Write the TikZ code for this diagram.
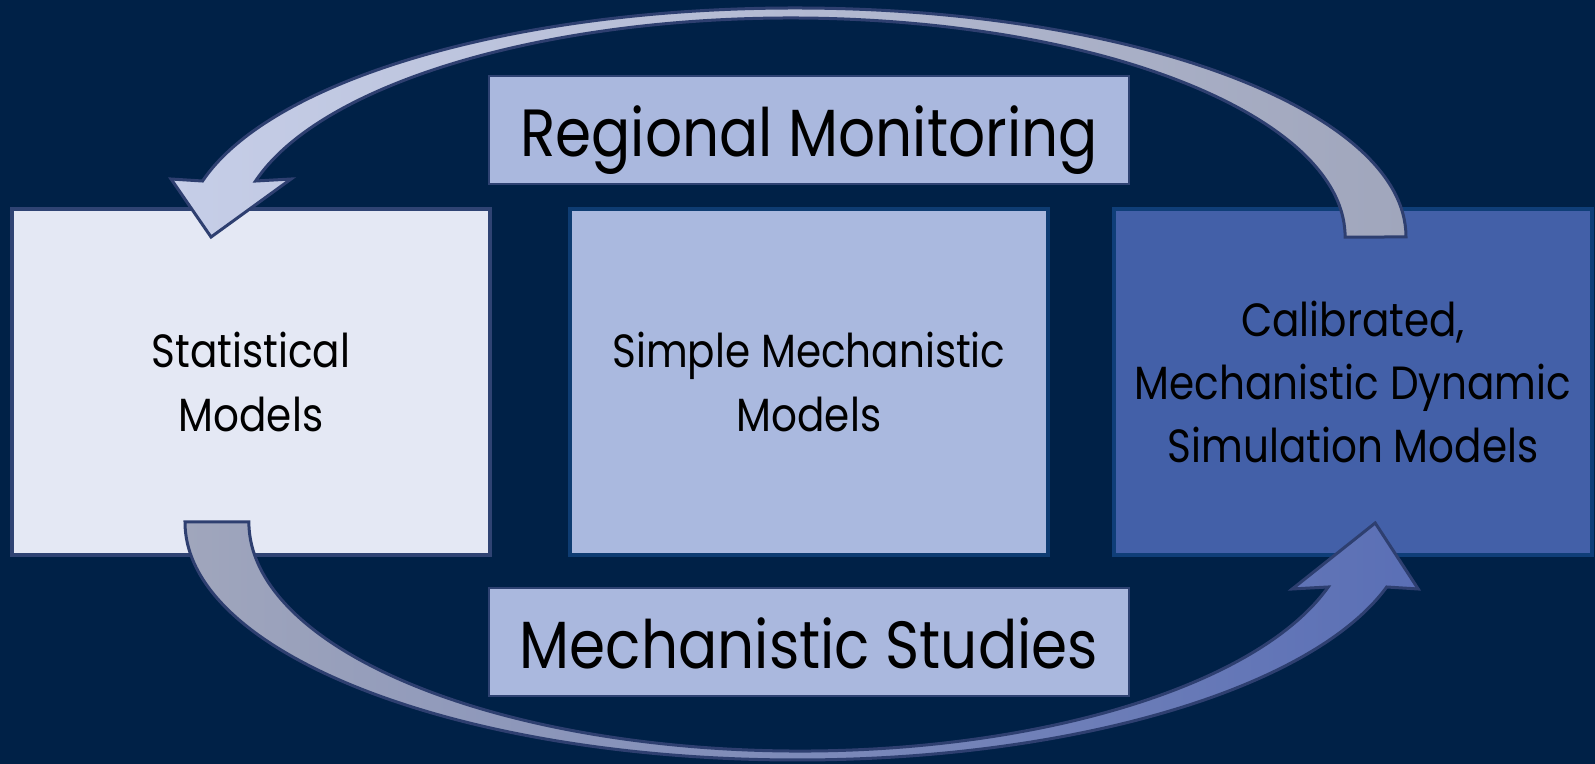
\documentclass[tikz,border=0pt]{standalone}
\usepackage{fontspec}
\setmainfont{Poppins}[FakeStretch=0.87]
\usetikzlibrary{positioning}

\definecolor{bgnavy}{HTML}{002147}
\definecolor{statfill}{HTML}{E4E8F4}
\definecolor{statline}{HTML}{2F4373}
\definecolor{simplefill}{HTML}{AAB9DF}
\definecolor{simpleline}{HTML}{0E3C72}
\definecolor{simfill}{HTML}{4360A8}
\definecolor{simline}{HTML}{0F3E78}
\definecolor{labelfill}{HTML}{AAB8DE}
\definecolor{labelline}{HTML}{2E4272}
\definecolor{arrowline}{HTML}{2E3F70}
\definecolor{arrowlight}{HTML}{C6CEE8}
\definecolor{arrowgrey}{HTML}{A0A6BC}
\definecolor{arrowblue}{HTML}{5A6FB6}

\begin{document}
\begin{tikzpicture}[
    model/.style={draw, line width=0.08cm, minimum width=9.56cm, minimum height=6.92cm, align=center,
      font=\fontsize{26.5}{36}\selectfont},
    tag/.style={draw=labelline, fill=labelfill, line width=0.04cm, minimum width=12.8cm, minimum height=2.16cm,
      text height=1.07cm, text depth=0pt, font=\fontsize{38}{44}\selectfont},
    bigarrow/.style={draw=arrowline, line width=0.06cm, line join=miter}
  ]
    \fill[bgnavy] (0,0) rectangle (31.9,15.28);
    \useasboundingbox (0,0) rectangle (31.9,15.28);

    % the three kinds of model
    \node[model, draw=statline, fill=statfill] (stat) at (5.02,7.64) {Statistical\\Models};
    \node[model, draw=simpleline, fill=simplefill, right=1.52cm of stat] (simple) {Simple Mechanistic\\Models};
    \node[model, draw=simline, fill=simfill, right=1.24cm of simple] (sim) {Calibrated,\\Mechanistic Dynamic\\Simulation Models};

    \node[tag, above=0.44cm of simple] (regional) {Regional Monitoring};
    \node[tag, below=0.6cm of simple] (studies) {Mechanistic Studies};

    % curved block arrows, tails sit on the boxes
    \coordinate (toptail) at ([xshift=5.88cm,yshift=-0.6cm]sim.north west);
    \coordinate (bottail) at ([xshift=3.5cm,yshift=0.7cm]stat.south west);

    \draw[bigarrow, left color=arrowlight, middle color=arrowlight!50!arrowgrey, right color=arrowgrey]
      (toptail) arc[start angle=0, end angle=165.85, x radius=12.22cm, y radius=4.58cm]
      -- ++(-0.63,0.04) -- ++(0.80,-1.16) -- ++(1.60,1.16) -- ++(-0.71,-0.04)
      arc[start angle=165.18, end angle=0, x radius=11.08cm, y radius=4.38cm] -- cycle;

    \draw[bigarrow, left color=arrowgrey, middle color=arrowgrey!75!arrowblue, right color=arrowblue]
      (bottail) arc[start angle=180, end angle=344.15, x radius=12.25cm, y radius=4.76cm]
      -- ++(0.63,-0.04) -- ++(-0.86,1.32) -- ++(-1.66,-1.32) -- ++(0.72,0.04)
      arc[start angle=343.51, end angle=180, x radius=11.02cm, y radius=4.58cm] -- cycle;
  \end{tikzpicture}
\end{document}
